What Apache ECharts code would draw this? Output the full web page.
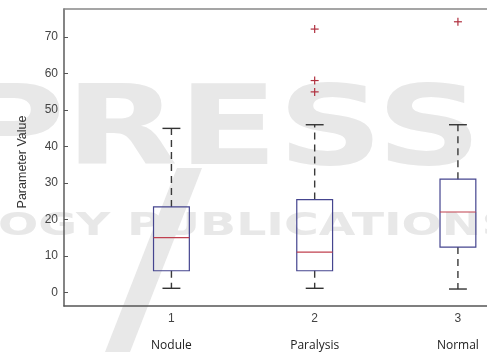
<!DOCTYPE html>
<html>
<head>
<meta charset="utf-8">
<script src="https://cdn.jsdelivr.net/npm/echarts@6/dist/echarts.min.js"></script>
<style>
html,body{margin:0;padding:0;background:#fff;}
#chart{width:487px;height:352px;}
</style>
</head>
<body>
<div id="chart"></div>
<script>
// ---- data ----
const categories = ['Nodule', 'Paralysis', 'Normal'];
const positions = [1, 2, 3];
const whiskerLow = [1.2, 1.2, 1.0];
const q1 = [6.0, 6.0, 12.5];
const median = [15.1, 11.1, 22.1];
const q3 = [23.5, 25.5, 31.1];
const whiskerHigh = [45.0, 46.0, 46.0];
const outlierPos = [2, 2, 2, 3];
const outlierVal = [72.2, 58.1, 55.0, 74.2];
const yTicks = [0, 10, 20, 30, 40, 50, 60, 70];

const boxData = positions.map((p, i) => [p, whiskerLow[i], q1[i], median[i], q3[i], whiskerHigh[i]]);
const outlierData = outlierPos.map((p, i) => [p, outlierVal[i]]);

const chart = echarts.init(document.getElementById('chart'), null, {renderer: 'canvas'});

const BOX_W = 0.25;
const whiskerStyle = {stroke: '#3a3a3a', lineWidth: 1.4, lineDash: [7, 5]};
const capStyle = {stroke: '#333', lineWidth: 1.4};

function renderBox(params, api) {
  const x = api.value(0);
  const lo = api.coord([x, api.value(1)]);
  const a = api.coord([x, api.value(2)]);
  const m = api.coord([x, api.value(3)]);
  const b = api.coord([x, api.value(4)]);
  const hi = api.coord([x, api.value(5)]);
  const w = api.size([BOX_W, 0])[0];
  const cx = lo[0];
  return {
    type: 'group',
    children: [
      {type: 'line', shape: {x1: cx, y1: b[1], x2: cx, y2: hi[1]}, style: whiskerStyle},
      {type: 'line', shape: {x1: cx, y1: a[1], x2: cx, y2: lo[1]}, style: whiskerStyle},
      {type: 'line', shape: {x1: cx - w / 4, y1: hi[1], x2: cx + w / 4, y2: hi[1]}, style: capStyle},
      {type: 'line', shape: {x1: cx - w / 4, y1: lo[1], x2: cx + w / 4, y2: lo[1]}, style: capStyle},
      {type: 'rect', shape: {x: cx - w / 2, y: b[1], width: w, height: a[1] - b[1]},
        style: {fill: 'none', stroke: '#45458f', lineWidth: 1.2}},
      {type: 'line', shape: {x1: cx - w / 2, y1: m[1], x2: cx + w / 2, y2: m[1]},
        style: {stroke: '#c0404f', lineWidth: 1.2}}
    ]
  };
}

function renderPlus(params, api) {
  const p = api.coord([api.value(0), api.value(1)]);
  const s = 4;
  const st = {stroke: '#b0303f', lineWidth: 1.2};
  return {
    type: 'group',
    children: [
      {type: 'line', shape: {x1: p[0] - s, y1: p[1], x2: p[0] + s, y2: p[1]}, style: st},
      {type: 'line', shape: {x1: p[0], y1: p[1] - s, x2: p[0], y2: p[1] + s}, style: st}
    ]
  };
}

const WM = '#e8e8e8';
const option = {
  backgroundColor: '#fff',
  animation: false,
  graphic: [
    {type: 'text', z: -1, left: -42, top: 80, scaleX: 1.33,
      style: {text: 'PRESS', font: 'bold 110px "DejaVu Sans"', fill: WM}},
    {type: 'text', z: -1, left: -2, top: 211, scaleX: 1.48,
      style: {text: 'OGY PUBLICATIONS', font: 'bold 32px "DejaVu Sans"', fill: WM}},
    {type: 'polygon', z: -1, shape: {points: [[105, 352], [130, 352], [202, 168], [177, 168]]},
      style: {fill: WM}}
  ],
  grid: {left: 64, top: 9, right: 0, height: 297, show: false},
  xAxis: [{
    type: 'value', min: 0.25, max: 3.203,
    axisLine: {show: true, onZero: false, lineStyle: {color: '#555', width: 1.5}},
    axisTick: {show: false},
    splitLine: {show: false},
    axisLabel: {
      customValues: positions,
      margin: 5,
      formatter: v => `{n|${v}}\n{c|${categories[positions.indexOf(v)]}}`,
      rich: {
        n: {fontSize: 12, lineHeight: 16, color: '#444', fontFamily: 'Liberation Sans'},
        c: {fontSize: 12, lineHeight: 38, color: '#222', fontFamily: 'Open Sans'}
      }
    }
  }, {
    type: 'value', position: 'top', min: 0.25, max: 3.203,
    axisLine: {show: true, onZero: false, lineStyle: {color: '#888', width: 1.5}},
    axisTick: {show: false}, axisLabel: {show: false}, splitLine: {show: false}
  }],
  yAxis: {
    type: 'value', min: -3.65, max: 77.7,
    name: 'Parameter Value', nameLocation: 'middle', nameGap: 35,
    nameTextStyle: {fontSize: 12.5, color: '#333', fontFamily: 'Liberation Sans', padding: [0, 9, 0, 0]},
    axisLine: {show: true, onZero: false, lineStyle: {color: '#666', width: 1.6}},
    axisTick: {show: true, inside: true, length: 4, customValues: yTicks, lineStyle: {color: '#555'}},
    splitLine: {show: false},
    axisLabel: {customValues: yTicks, margin: 6, fontSize: 12, color: '#444', fontFamily: 'Liberation Sans'}
  },
  series: [
    {type: 'custom', renderItem: renderBox, data: boxData, encode: {x: 0, y: [1, 2, 3, 4, 5]}, z: 3},
    {type: 'custom', renderItem: renderPlus, data: outlierData, encode: {x: 0, y: 1}, z: 3}
  ]
};
chart.setOption(option);
</script>
</body>
</html>
